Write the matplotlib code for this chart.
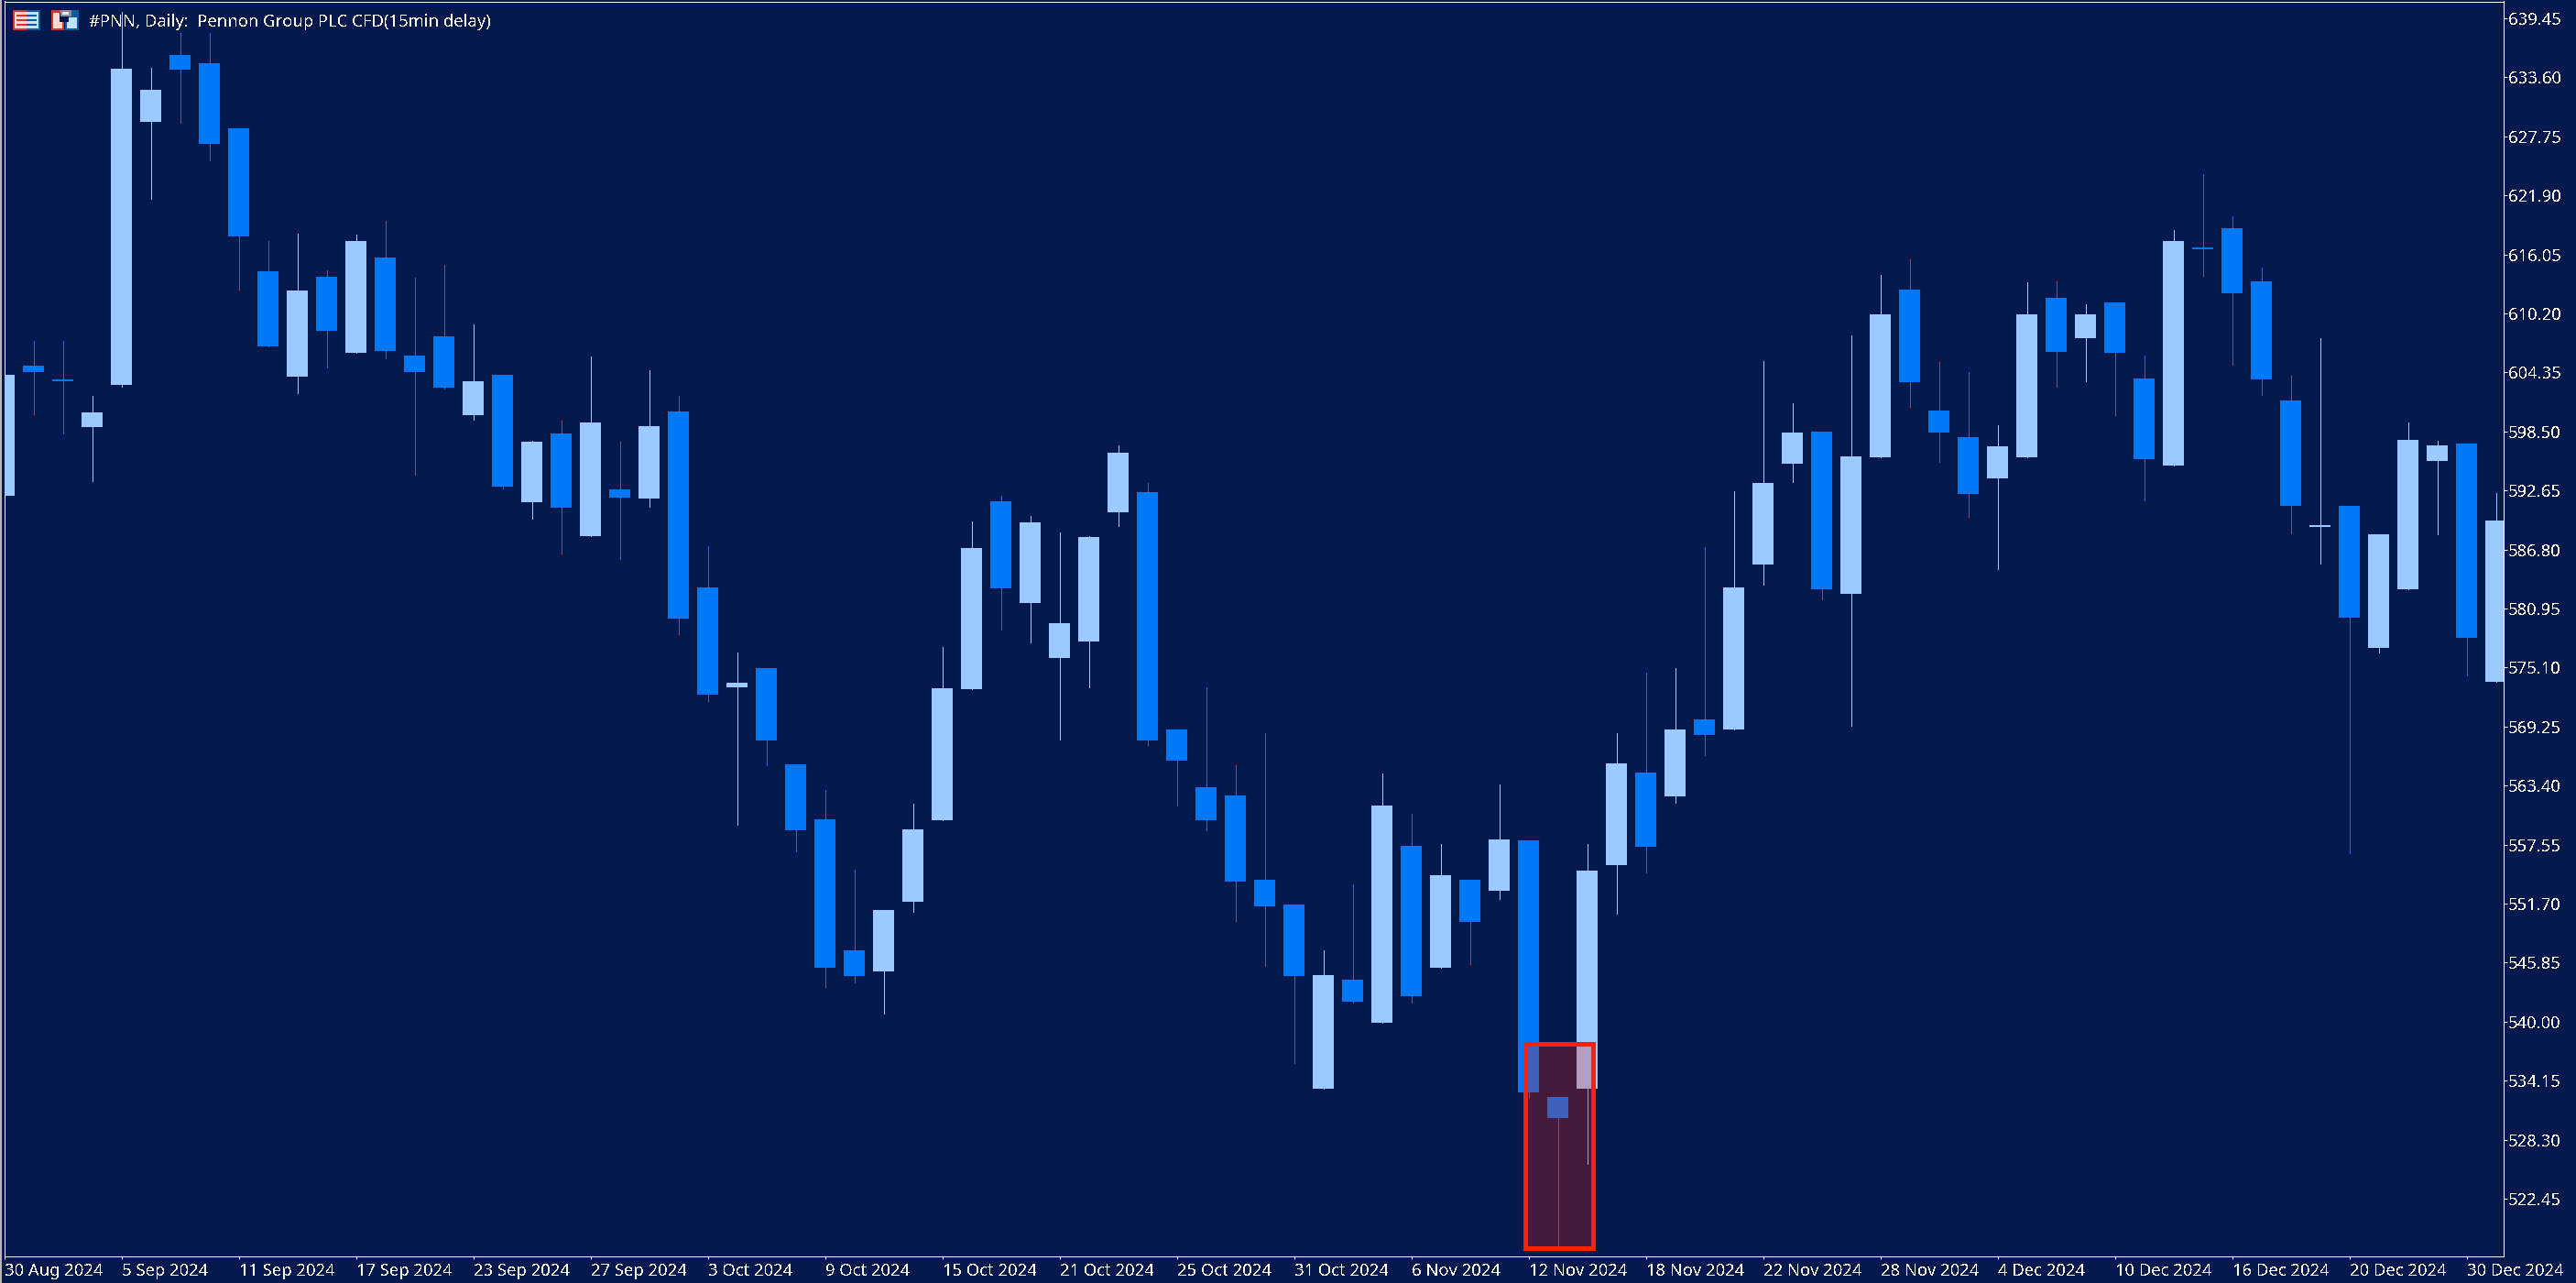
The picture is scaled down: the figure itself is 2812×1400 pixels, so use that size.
import numpy as np
import matplotlib
matplotlib.use("Agg")
import matplotlib.pyplot as plt
from matplotlib.patches import Rectangle

WIDTH, HEIGHT = 2812, 1400

BG = "#06194F"
UP_COLOR = "#9CC9FF"
DOWN_COLOR = "#0077F7"

title = "#PNN, Daily:  Pennon Group PLC CFD(15min delay)"

opens = [592.13, 605.02, 603.66, 598.94, 603.12, 629.19, 635.82, 635.00, 628.55, 614.38,
         603.93, 613.84, 606.30, 615.74, 606.02, 607.93, 600.12, 604.12, 591.49, 598.30,
         588.13, 592.76, 591.85, 600.48, 583.04, 573.14, 575.05, 565.51, 560.06, 547.07,
         544.98, 551.88, 559.97, 572.96, 591.58, 581.50, 576.05, 577.68, 590.49, 592.49,
         568.96, 563.24, 562.42, 554.06, 551.61, 533.35, 544.16, 539.89, 557.42, 545.34,
         554.06, 552.97, 557.97, 532.53, 533.35, 555.52, 564.69, 562.33, 569.96, 568.96,
         585.31, 595.30, 598.48, 582.40, 595.94, 612.56, 600.57, 597.94, 593.85, 595.94,
         611.75, 607.75, 611.29, 603.75, 595.12, 616.74, 618.65, 613.38, 601.57, 589.04,
         591.13, 577.05, 582.86, 595.58, 597.30, 573.69]
highs = [604.12, 607.48, 607.48, 602.03, 640.09, 634.55, 638.00, 638.00, 628.55, 617.38,
         618.11, 614.47, 618.01, 619.38, 613.75, 615.02, 609.11, 604.12, 597.58, 599.57,
         605.93, 597.49, 604.57, 602.03, 587.13, 576.59, 575.05, 565.51, 562.97, 555.06,
         551.06, 561.60, 577.14, 589.58, 592.13, 590.13, 588.49, 588.13, 597.12, 593.40,
         568.96, 573.14, 565.42, 568.60, 551.61, 547.07, 553.61, 564.60, 560.60, 557.60,
         554.06, 563.51, 557.97, 532.53, 557.60, 568.60, 574.59, 575.05, 587.04, 592.58,
         605.48, 601.30, 598.48, 608.02, 614.02, 615.56, 605.39, 604.39, 599.12, 613.29,
         613.38, 611.11, 611.29, 606.02, 618.47, 624.01, 619.83, 614.74, 604.03, 607.75,
         591.13, 588.31, 599.39, 597.58, 597.30, 592.40]
lows = [592.13, 600.21, 598.30, 593.58, 602.94, 621.56, 629.10, 625.37, 612.56, 606.93,
        602.30, 604.84, 606.30, 605.75, 594.21, 602.75, 599.66, 592.85, 589.85, 586.40,
        588.13, 585.86, 591.04, 578.41, 571.78, 559.51, 565.42, 556.88, 543.44, 543.89,
        540.80, 550.88, 559.97, 572.96, 578.86, 577.59, 567.96, 573.14, 589.13, 567.42,
        561.42, 558.97, 549.98, 545.52, 535.89, 533.35, 541.89, 539.89, 541.89, 545.34,
        545.71, 552.15, 532.44, 517.77, 525.90, 550.70, 554.79, 561.69, 566.42, 568.96,
        583.31, 593.49, 581.86, 569.32, 595.94, 600.94, 595.49, 590.04, 584.86, 595.94,
        602.94, 603.48, 600.12, 591.67, 595.12, 613.93, 605.12, 602.12, 588.40, 585.40,
        556.70, 576.59, 582.86, 588.31, 574.32, 573.69]
closes = [604.12, 604.39, 603.48, 600.39, 634.46, 632.37, 634.37, 627.01, 617.83, 606.93,
          612.47, 608.48, 617.38, 606.48, 604.39, 602.84, 603.48, 593.03, 597.49, 590.94,
          599.39, 591.94, 599.03, 579.95, 572.41, 573.59, 567.87, 558.97, 545.34, 544.53,
          551.06, 559.06, 573.05, 586.95, 582.95, 589.49, 579.50, 588.04, 596.39, 567.87,
          565.87, 559.97, 553.88, 551.43, 544.53, 544.62, 541.98, 561.42, 542.53, 554.52,
          549.88, 558.06, 532.99, 530.44, 554.97, 565.60, 557.33, 568.96, 568.42, 583.04,
          593.40, 598.39, 582.86, 596.03, 610.11, 603.39, 598.39, 592.31, 597.03, 610.11,
          606.39, 610.11, 606.30, 595.76, 617.38, 616.56, 612.20, 603.66, 591.13, 589.22,
          580.04, 588.31, 597.67, 597.12, 578.04, 589.67]

date_labels = ["30 Aug 2024", "5 Sep 2024", "11 Sep 2024", "17 Sep 2024", "23 Sep 2024",
               "27 Sep 2024", "3 Oct 2024", "9 Oct 2024", "15 Oct 2024", "21 Oct 2024",
               "25 Oct 2024", "31 Oct 2024", "6 Nov 2024", "12 Nov 2024", "18 Nov 2024",
               "22 Nov 2024", "28 Nov 2024", "4 Dec 2024", "10 Dec 2024", "16 Dec 2024",
               "20 Dec 2024", "30 Dec 2024"]
price_ticks = [639.45, 633.60, 627.75, 621.90, 616.05, 610.20, 604.35, 598.50, 592.65,
               586.80, 580.95, 575.10, 569.25, 563.40, 557.55, 551.70, 545.85, 540.00,
               534.15, 528.30, 522.45]

# highlighted stretch around the November low (bar index and price bounds)
zone_bars = (51.90, 54.19)
zone_prices = (517.52, 537.77)

plt.rcParams['font.family'] = ['Noto Sans', 'DejaVu Sans']
plt.rcParams['text.antialiased'] = False

fig = plt.figure(figsize=(WIDTH / 100, HEIGHT / 100), dpi=100, facecolor=BG)
left, right = 4.6 / WIDTH, 2732.7 / WIDTH
top, bottom = 1 - 1.5 / HEIGHT, 1 - 1371 / HEIGHT
ax = fig.add_axes([left, bottom, right - left, top - bottom], facecolor=BG)


def draw_candles(ax):
    o = np.array(opens)
    c = np.array(closes)
    x = np.arange(len(o))
    colors = [UP_COLOR if up else DOWN_COLOR for up in c >= o]
    ax.vlines(x, lows, highs, colors=colors, linewidth=0.72, antialiased=False, zorder=2)
    ax.bar(x, np.abs(c - o), bottom=np.minimum(o, c), width=23 / 32, color=colors,
           linewidth=0, antialiased=False, zorder=3)


def px_box(x, y, w, h, color):
    # small toolbar glyphs are placed in figure pixels, y counted from the top
    fig.add_artist(Rectangle((x / WIDTH, 1 - (y + h) / HEIGHT), w / WIDTH, h / HEIGHT,
                             transform=fig.transFigure, facecolor=color, linewidth=0,
                             antialiased=False))


def draw_icons():
    red, blue = "#D8352E", "#0A5C9E"
    # table icon
    px_box(14, 11, 15, 22, red)
    px_box(29, 11, 15, 22, blue)
    px_box(16, 13, 13, 18, "#FFD9D2")
    px_box(29, 13, 13, 18, "#BFE3FA")
    for y in (16, 21, 26):
        px_box(18, y, 11, 2, red)
        px_box(29, y, 11, 2, blue)
    # save icon
    px_box(56, 11, 14, 22, red)
    px_box(71, 11, 15, 22, blue)
    px_box(58, 14, 10, 17, "#FFD9D2")
    px_box(73, 19, 11, 12, "#BFE3FA")
    px_box(65, 14, 10, 10, BG)
    px_box(66, 11, 12, 7, "#8A8F99")
    px_box(68, 13, 7, 3, "#E8E8E8")


draw_candles(ax)

ax.add_patch(Rectangle((zone_bars[0], zone_prices[0]), zone_bars[1] - zone_bars[0],
                       zone_prices[1] - zone_prices[0], facecolor=(1, 0.13, 0, 0.25),
                       edgecolor="#FF2000", linewidth=3.6, zorder=5))

ax.set_xlim(0, (2732.7 - 4.6) / 32)
ax.set_ylim(641.27 - 0.09084 * 1371, 641.27 - 0.09084 * 1.5)

ax.yaxis.tick_right()
ax.set_yticks(price_ticks)
ax.set_yticklabels([f"{p:.2f}" for p in price_ticks])
ax.set_xticks(np.arange(0, len(opens), 4))
ax.set_xticklabels(date_labels, ha="left")
ax.tick_params(axis="y", colors="white", length=2.88, width=0.72, pad=0.6, labelsize=13.3)
ax.tick_params(axis="x", colors="white", length=2.16, width=0.72, pad=3, labelsize=13.3)
for side in ax.spines.values():
    side.set_color("white")
    side.set_linewidth(0.72)

ax.text(97 / WIDTH, 1 - 24 / HEIGHT, title, color="white", fontsize=13.3, va="center", ha="left",
        transform=fig.transFigure, zorder=6)

draw_icons()
px_box(0, 0, 2, HEIGHT, "#B8B8B8")

fig.savefig("out.png", dpi=100, facecolor=BG)
